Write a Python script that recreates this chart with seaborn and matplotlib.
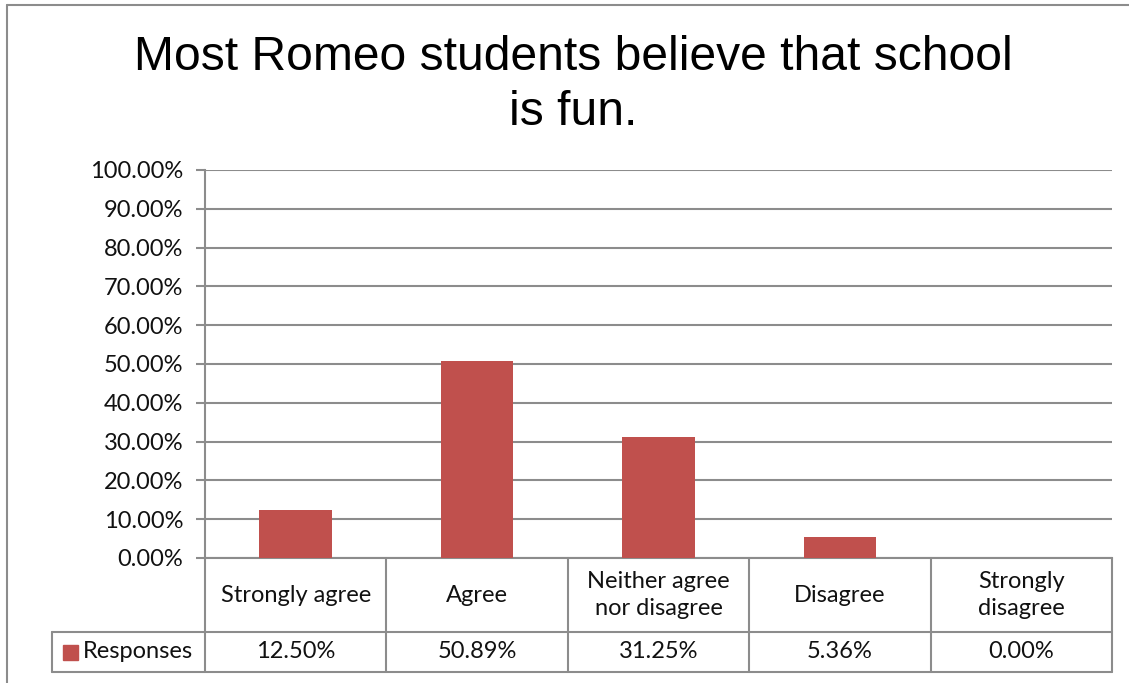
import numpy as np
import pandas as pd
import matplotlib.pyplot as plt
import matplotlib.transforms as mtransforms
from matplotlib.lines import Line2D
from matplotlib.patches import Rectangle
import seaborn as sns

# data
categories = ["Strongly agree", "Agree", "Neither agree\nnor disagree", "Disagree", "Strongly\ndisagree"]
responses = [12.50, 50.89, 31.25, 5.36, 0.00]
series_name = "Responses"
yticks = [0, 10, 20, 30, 40, 50, 60, 70, 80, 90, 100]
title = "Most Romeo students believe that school\nis fun."

bar_color = "#C0504D"
line_gray = "#8C8C8C"
text_color = "#111111"
body_font = "Lato"
fs = 17

df = pd.DataFrame({"category": categories, "value": responses})

sns.set_style("white")
plt.rcParams["font.family"] = [body_font, "DejaVu Sans"]

W, H = 1129, 683
fig = plt.figure(figsize=(W / 100, H / 100), dpi=100)
ax = fig.add_axes([205 / W, 1 - 558 / H, (1112 - 205) / W, (558 - 170) / H])

sns.barplot(data=df, x="category", y="value", color=bar_color, width=0.4,
            saturation=1, linewidth=0, ax=ax, zorder=3)

ax.set_xlim(-0.5, len(categories) - 0.5)
ax.set_ylim(0, 100)
ax.set_yticks(yticks)
ax.set_yticklabels([f"{t:.2f}%" for t in yticks], fontsize=fs, color=text_color)
ax.set_xticks([])
ax.set_xlabel("")
ax.set_ylabel("")
ax.yaxis.grid(True, color=line_gray, linewidth=1.5, zorder=0)
ax.tick_params(axis="y", length=6.5, width=1.5, color=line_gray, pad=9, direction="out", left=True)
for s in ["top", "right"]:
    ax.spines[s].set_visible(False)
ax.spines["left"].set_color(line_gray)
ax.spines["left"].set_linewidth(1.5)
ax.spines["bottom"].set_color(line_gray)
ax.spines["bottom"].set_linewidth(1.5)

# data table under the chart
trans = mtransforms.blended_transform_factory(ax.transData, ax.transAxes)
n = len(categories)
row1 = -74 / 388
row2 = -114 / 388
left_x = -0.5 - 153 / 181.4
kw = dict(color=line_gray, linewidth=1.5, transform=trans, clip_on=False)
ax.plot([left_x, n - 0.5], [row1, row1], **kw)
ax.plot([left_x, n - 0.5], [row2, row2], **kw)
ax.plot([left_x, left_x], [row1, row2], **kw)
for i in range(n + 1):
    ax.plot([i - 0.5, i - 0.5], [0, row2], **kw)

for i, (cat, val) in enumerate(zip(categories, responses)):
    ax.text(i, row1 / 2, cat, transform=trans, ha="center", va="center",
            fontsize=fs, color=text_color, linespacing=1.4)
    ax.text(i, (row1 + row2) / 2, f"{val:.2f}%", transform=trans, ha="center",
            va="center", fontsize=fs, color=text_color)

# legend key inside the table
ax.add_patch(Rectangle((left_x + 11 / 181.4, (row1 + row2) / 2 - 7.5 / 388),
                       15 / 181.4, 15 / 388, transform=trans, color=bar_color,
                       clip_on=False))
ax.text(left_x + 31 / 181.4, (row1 + row2) / 2, series_name, transform=trans,
        ha="left", va="center", fontsize=fs, color=text_color)

fig.text(573 / W, 1 - 35 / H, title, ha="center", va="top", fontsize=34.6,
         color="black", family=["Liberation Sans", "DejaVu Sans"], linespacing=1.28)

# outer chart frame (only top and left visible)
fig.add_artist(Line2D([7 / W, 1], [1 - 5 / H, 1 - 5 / H], color=line_gray, linewidth=1.5))
fig.add_artist(Line2D([7 / W, 7 / W], [0, 1 - 5 / H], color=line_gray, linewidth=1.5))

fig.savefig("out.png", dpi=100)
